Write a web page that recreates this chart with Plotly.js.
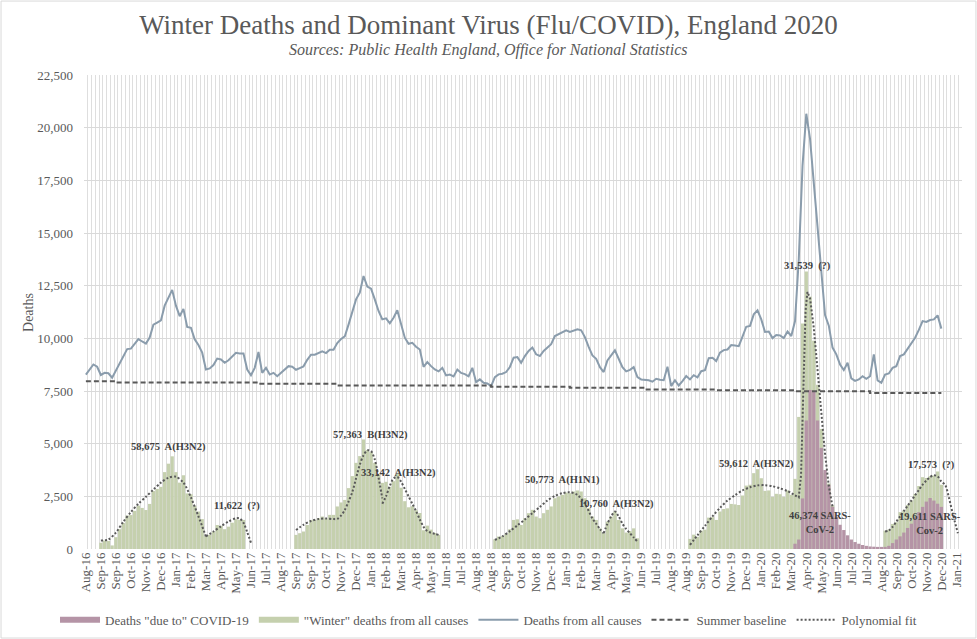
<!DOCTYPE html>
<html>
<head>
<meta charset="utf-8">
<script src="https://cdn.plot.ly/plotly-3.0.1.min.js"></script>
<style>
  html, body { margin: 0; padding: 0; background: #fff; }
  #chart { width: 977px; height: 639px; }
</style>
</head>
<body>
<div id="chart"></div>
<script>
// weekly tick labels, one every 4 weeks (first week ends 5 Aug 2016)
var tickLabels = ['Aug-16','Sep-16','Sep-16','Oct-16','Nov-16','Dec-16',
  'Jan-17','Feb-17','Mar-17','Apr-17','May-17','Jun-17','Jul-17','Aug-17','Sep-17','Sep-17','Oct-17','Nov-17','Dec-17',
  'Jan-18','Feb-18','Mar-18','Apr-18','May-18','Jun-18','Jul-18','Aug-18','Aug-18','Sep-18','Oct-18','Nov-18','Dec-18',
  'Jan-19','Feb-19','Mar-19','Apr-19','May-19','Jun-19','Jul-19','Aug-19','Aug-19','Sep-19','Oct-19','Nov-19','Dec-19',
  'Jan-20','Feb-20','Mar-20','Apr-20','May-20','Jun-20','Jul-20','Jul-20','Aug-20','Sep-20','Oct-20','Nov-20','Dec-20',
  'Jan-21'];

// deaths from all causes, England, weekly from week 0
var allCauses = [
  8280, 8550, 8760, 8650, 8260, 8360, 8340, 8130, 8460, 8840, 9130, 9490, 9510, 9710, 9960, 9850, 9750, 10040, 10650, 10750,
  10850, 11550, 11950, 12300, 11550, 11050, 11400, 10540, 10500, 9950, 9680, 9320, 8520, 8570, 8730, 9040, 9000, 8840, 8960, 9150,
  9310, 9280, 9280, 8520, 8250, 8600, 9350, 8360, 8600, 8280, 8360, 8200, 8360, 8500, 8680, 8650, 8510, 8590, 8670, 8980,
  9220, 9220, 9300, 9380, 9300, 9460, 9460, 9780, 9970, 10090, 10650, 11220, 11850, 12170, 12960, 12460, 12360, 11850, 11300, 10900,
  10950, 10710, 10980, 11330, 10670, 10030, 9740, 9790, 9600, 9470, 8650, 8870, 8680, 8520, 8430, 8600, 8240, 8280, 8190, 8520,
  8360, 8300, 8200, 8600, 7920, 8050, 7890, 7860, 7730, 8160, 8290, 8320, 8400, 8640, 9080, 9110, 8840, 9160, 9400, 9560,
  9240, 9160, 9400, 9560, 9720, 10110, 10190, 10270, 10380, 10300, 10380, 10430, 10380, 10060, 9590, 9190, 9030, 8630, 8400, 8950,
  9190, 9430, 9030, 8630, 8430, 8500, 8630, 8160, 8050, 8030, 8010, 7940, 8080, 8030, 8010, 8650, 7730, 8010, 7760, 7970,
  8210, 8050, 8250, 8150, 8440, 8490, 9060, 9080, 8920, 9320, 9440, 9470, 9680, 9660, 9630, 10080, 10550, 10590, 11140, 11330,
  10900, 10300, 10320, 10010, 10160, 10140, 10010, 10320, 10110, 10820, 13760, 18200, 20660, 19470, 17380, 15290, 13190, 11100, 10600, 9560,
  9240, 8760, 8490, 8840, 8100, 7980, 8050, 8200, 8080, 8200, 9240, 8000, 7890, 8280, 8330, 8600, 8680, 9160, 9240, 9500,
  9710, 10030, 10400, 10820, 10780, 10870, 10900, 11090, 10460
];

// summer baseline, stepped
var baselineWeeks = [0, 8, 46, 67, 108, 129, 149, 168, 189, 209, 228];
var baselineDeaths = [7960, 7900, 7840, 7760, 7700, 7650, 7570, 7540, 7490, 7410, 7410];

// "winter" deaths per season (first week of each season, then weekly values)
var winterStarts = [4, 56, 109, 161, 213];
var winter1617 = [300, 400, 380, 170, 560, 940, 1230, 1590, 1610, 1810, 2060, 1950, 1850, 2140, 2750, 2850, 2950, 3650, 4050, 4400,
  3650, 3150, 3500, 2640, 2600, 2050, 1780, 1420, 620, 670, 830, 1140, 1100, 940, 1060, 1250, 1410, 1380, 1380];
var winter1718 = [670, 750, 830, 1140, 1380, 1380, 1460, 1540, 1460, 1620, 1620, 2020, 2210, 2330, 2890, 3460, 4090, 4410, 5200, 4700,
  4600, 4090, 3540, 3140, 3190, 2950, 3220, 3570, 2910, 2270, 1980, 2030, 1840, 1710, 890, 1110, 920, 760, 670];
var winter1819 = [460, 590, 620, 700, 940, 1380, 1410, 1140, 1460, 1700, 1860, 1540, 1460, 1700, 1860, 2020, 2410, 2490, 2570, 2680,
  2650, 2730, 2780, 2730, 2410, 1940, 1540, 1380, 980, 750, 1300, 1540, 1780, 1380, 980, 780, 850, 980, 510];
var winter1920 = [480, 680, 580, 870, 920, 1490, 1510, 1380, 1780, 1900, 1930, 2140, 2120, 2090, 2540, 3010, 3050, 3600, 3790, 3360,
  2760, 2780, 2470, 2620, 2600, 2470, 2780, 2570, 3330, 6270, 10710, 13170, 11980, 9890, 7800, 5700, 3610, 3110, 2070];
var winter2021 = [870, 920, 1190, 1270, 1750, 1830, 2090, 2300, 2620, 2990, 3410, 3370, 3460, 3490, 3680, 3050];
var winterSeasons = [winter1617, winter1718, winter1819, winter1920, winter2021];

// deaths "due to" COVID-19, weekly from week 189
var covidStart = 189;
var covidDeaths = [250, 450, 2400, 6100, 7550, 7500, 6100, 4800, 3750, 3050, 2000, 1530, 1150, 900, 650, 450, 330, 250, 190, 150,
  120, 110, 100, 100, 100, 150, 280, 450, 600, 780, 1000, 1200, 1500, 1750, 2000, 2250, 2420, 2300, 2150, 2000];

// polynomial fits per season (null breaks the line)
var fitWeeks = [4, 6, 8, 10, 12, 14, 16, 18, 20, 22, 24, 26, 28, 30, 32, null,
  32, 34, 36, 38, 40, 41, 42, 43, 44, null,
  56, 58, 60, 62, 64, 66, 67, 68, 69, 70, 71, 72, 73, 74, 75, 76, 77, 78, 79, null,
  79, 80, 81, 82, 83, 84, 85, 86, 87, 88, 89, 90, 91, 92, 93, 94, null,
  109, 111, 113, 115, 117, 119, 121, 123, 125, 127, 129, 131, 133, 135, 136, 137, 138, null,
  138, 139, 140, 141, 142, 143, 144, 145, 146, 147, null,
  161, 163, 165, 167, 169, 171, 173, 175, 177, 179, 181, 183, 185, 187, 189, null,
  213, 214, 215, 216, 217, 218, 219, 220, 221, 222, 223, 224, 225, 226, 227, 228, 229, 230, 231, 232.4];
var fitDeaths = [400, 450, 780, 1300, 1750, 2150, 2480, 2820, 3150, 3380, 3430, 3150, 2450, 1550, 600, null,
  600, 830, 1080, 1300, 1460, 1450, 1250, 800, 300, null,
  900, 1150, 1330, 1420, 1450, 1420, 1430, 1580, 1850, 2250, 2700, 3350, 4000, 4450, 4680, 4650, 4250, 3400, 2400, null,
  2150, 2500, 3000, 3350, 3420, 3200, 2850, 2500, 2150, 1800, 1400, 1050, 850, 770, 720, 670, null,
  430, 600, 850, 1120, 1400, 1700, 2000, 2300, 2520, 2650, 2690, 2570, 2150, 1450, 1200, 950, 750, null,
  750, 1200, 1550, 1780, 1550, 1200, 950, 750, 550, 350, null,
  200, 650, 1100, 1550, 1950, 2300, 2550, 2780, 2930, 3020, 3030, 2980, 2880, 2750, 2550, null,
  830, 880, 1050, 1300, 1550, 1800, 2050, 2300, 2550, 2800, 3050, 3250, 3420, 3500, 3450, 3200, 3050, 2450, 1700, 750];
var waveFitWeeks = [189, 190, 190.6, 191.2, 191.8, 192.3, 193, 194, 195, 196, 197, 198, 199];
var waveFitDeaths = [2550, 2450, 3500, 8000, 11300, 12200, 11900, 10500, 8600, 6500, 4500, 3000, 2000];

// season labels
var noteText = ['58,675&nbsp; A(H3N2)', '11,622&nbsp; (?)', '57,363&nbsp; B(H3N2)', '33,142&nbsp; A(H3N2)', '50,773&nbsp; A(H1N1)',
  '10,760&nbsp; A(H3N2)', '59,612&nbsp; A(H3N2)', '31,539&nbsp; (?)', '46,374 SARS-<br>CoV-2', '17,573&nbsp; (?)', '19,611 SARS-<br>Cov-2'];
var noteWeek = [21.9, 40.2, 75.8, 83.4, 127, 141.4, 178.6, 192.3, 195.7, 225.4, 224.9];
var noteDeaths = [4840, 2040, 5410, 3610, 3280, 2140, 4040, 13430, 1280, 3990, 1190];

var weeks = allCauses.map(function (v, i) { return i; });
var winterX = [], winterY = [];
winterSeasons.forEach(function (vals, s) {
  vals.forEach(function (v, i) { winterX.push(winterStarts[s] + i); winterY.push(v); });
});
var covidX = covidDeaths.map(function (v, i) { return covidStart + i; });

var serif = 'Liberation Serif, Times New Roman, serif';
var grey = '#595959';
var green = '#c5d0ae';
var mauve = '#b594a6';

var winter = {
  type: 'bar', x: winterX, y: winterY, name: '"Winter" deaths from all causes',
  marker: { color: green }, showlegend: false
};
var covid = {
  type: 'bar', x: covidX, y: covidDeaths, name: 'Deaths "due to" COVID-19',
  marker: { color: mauve }, showlegend: false
};
// legend swatches drawn as short thick strokes, like the original
var covidKey = {
  type: 'scatter', mode: 'lines', x: [null], y: [null], name: 'Deaths "due to" COVID-19',
  line: { color: mauve, width: 6 }, legendrank: 1
};
var winterKey = {
  type: 'scatter', mode: 'lines', x: [null], y: [null], name: '"Winter" deaths from all causes',
  line: { color: green, width: 6 }, legendrank: 2
};
var deaths = {
  type: 'scatter', mode: 'lines', x: weeks, y: allCauses, name: 'Deaths from all causes',
  line: { color: '#8a9cac', width: 2 }, legendrank: 3
};
var baseline = {
  type: 'scatter', mode: 'lines', x: baselineWeeks, y: baselineDeaths, name: 'Summer baseline',
  line: { color: '#595959', width: 2, dash: '5px,3px', shape: 'hv' }, legendrank: 4
};
var fit = {
  type: 'scatter', mode: 'lines', x: fitWeeks, y: fitDeaths, name: 'Polynomial fit',
  connectgaps: false, line: { color: '#595959', width: 2, dash: '2px,2px', shape: 'spline', smoothing: 0.8 },
  legendrank: 5, legendgroup: 'fit'
};
var waveFit = {
  type: 'scatter', mode: 'lines', x: waveFitWeeks, y: waveFitDeaths, name: 'Polynomial fit',
  line: { color: '#595959', width: 2, dash: '2px,2px' }, showlegend: false, legendgroup: 'fit'
};

var annotations = noteText.map(function (t, i) {
  return {
    x: noteWeek[i], y: noteDeaths[i], xref: 'x', yref: 'y', text: '<b>' + t + '</b>',
    showarrow: false, font: { family: serif, size: 10.5, color: '#404040' }
  };
});
annotations.push({
  xref: 'paper', yref: 'paper', x: 0.4607, y: 1.0527, yanchor: 'middle', showarrow: false,
  text: '<i>Sources: Public Health England, Office for National Statistics</i>',
  font: { family: serif, size: 16, color: grey }
});
annotations.push({
  xref: 'paper', yref: 'paper', x: -0.0638, y: 0.5, xanchor: 'center', yanchor: 'middle',
  textangle: -90, showarrow: false, text: 'Deaths',
  font: { family: serif, size: 14, color: grey }
});

var layout = {
  width: 977,
  height: 639,
  margin: { l: 84, r: 15, t: 75, b: 90, autoexpand: false },
  paper_bgcolor: '#fff',
  plot_bgcolor: '#fff',
  title: {
    text: 'Winter Deaths and Dominant Virus (Flu/COVID), England 2020',
    font: { family: serif, size: 27, color: grey },
    x: 0.5, xanchor: 'center', y: 0.962, yanchor: 'middle'
  },
  barmode: 'overlay',
  bargap: 0.12,
  showlegend: true,
  legend: {
    orientation: 'h', xref: 'container', yref: 'container',
    x: 0.5, xanchor: 'center', y: 0.03, yanchor: 'middle',
    font: { family: serif, size: 13, color: grey }, traceorder: 'normal', itemwidth: 40
  },
  xaxis: {
    range: [-0.5, 233.5],
    automargin: false,
    tickmode: 'array',
    tickvals: tickLabels.map(function (t, i) { return i * 4; }),
    ticktext: tickLabels,
    tickangle: -90,
    tickfont: { family: serif, size: 13, color: grey },
    showgrid: false,
    zeroline: false,
    ticks: '',
    minor: { tickmode: 'linear', tick0: 0.5, dtick: 1, showgrid: true, gridcolor: '#dedede', gridwidth: 1 },
    showline: false
  },
  yaxis: {
    range: [0, 22500],
    automargin: false,
    dtick: 2500,
    tickformat: ',d',
    ticklabelstandoff: 10,
    tickfont: { family: serif, size: 13, color: grey },
    gridcolor: '#d9d9d9',
    zeroline: false
  },
  annotations: annotations,
  shapes: [{
    type: 'rect', xref: 'paper', yref: 'paper',
    x0: -0.0945, x1: 1.0159, y0: -0.1878, y1: 1.156,
    line: { color: '#d9d9d9', width: 1 }
  }]
};

Plotly.newPlot('chart', [winter, covid, covidKey, winterKey, deaths, baseline, fit, waveFit], layout, { displayModeBar: false });
</script>
</body>
</html>
